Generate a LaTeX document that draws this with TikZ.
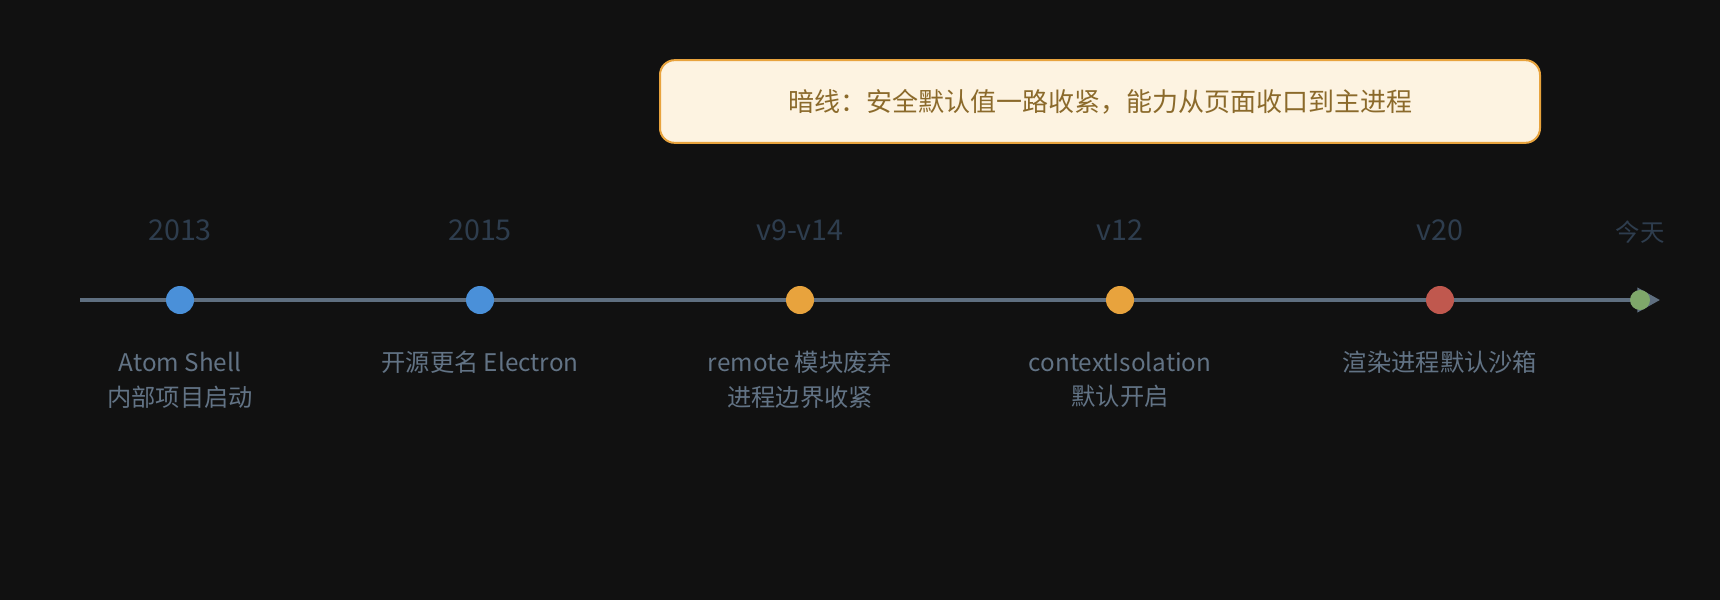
\documentclass[tikz,border=0pt]{standalone}
\usepackage{fontspec}
\setmainfont{Noto Sans CJK SC}
\usetikzlibrary{arrows.meta}
\definecolor{bgc}{HTML}{111111}
\definecolor{axis}{HTML}{5F6F80}
\definecolor{yearc}{HTML}{2E3D4E}
\definecolor{descc}{HTML}{627385}
\definecolor{blu}{HTML}{4A90D9}
\definecolor{org}{HTML}{E8A33D}
\definecolor{rd}{HTML}{C0584E}
\definecolor{grn}{HTML}{7FA86A}
\definecolor{notefill}{HTML}{FDF3E1}
\definecolor{notetext}{HTML}{8B6A2B}
\begin{document}
\begin{tikzpicture}[x=0.75pt,y=-0.75pt,
	dot/.style={circle,inner sep=0pt,minimum size=21pt},
	year/.style={text=yearc,font=\fontsize{21.5}{26}\selectfont},
	desc/.style={text=descc,font=\fontsize{18.2}{26}\selectfont,align=center}]
		\fill[bgc] (0,0) rectangle (1720,600);
		\useasboundingbox (0,0) rectangle (1720,600);
		% \node (note) at (1100,101){...};
		\node (note) at (1100,101.5)[draw=org,line width=1.5pt,fill=notefill,rounded corners=11pt,
			minimum width=660pt,minimum height=62pt,text=notetext,font=\fontsize{19.5}{24}\selectfont]
			{暗线：安全默认值一路收紧，能力从页面收口到主进程};
		\coordinate (s) at (80,300);
		\coordinate (e) at (1660,300);
		\draw[axis,line width=3pt,-{Triangle[length=17pt,width=18pt]}] (s)--(e);
		\node[dot,fill=blu] (13) at (180,300){};
		\node[dot,fill=blu] (15) at (480,300){};
		\node[dot,fill=org] (v9) at (800,300){};
		\node[dot,fill=org] (v12) at (1120,300){};
		\node[dot,fill=rd] (v20) at (1440,300){};
		\node[dot,fill=grn,minimum size=15pt] (now) at (1640,300){};
		\node[year] (y13) at (180,230){2013};
		\node[year] (y15) at (480,230){2015};
		\node[year] (y9) at (800,230){v9-v14};
		\node[year] (y12) at (1120,230){v12};
		\node[year] (y20) at (1440,230){v20};
		\node[year,font=\fontsize{18.3}{22}\selectfont] (ynow) at (1640,232){今天};
		\node[desc] (t13) at (180,380){Atom Shell\\内部项目启动};
		\node[desc] (t15) at (480,362){开源更名 Electron};
		\node[desc] (t9) at (800,380){remote 模块废弃\\进程边界收紧};
		\node[desc] (t12) at (1120,380){contextIsolation\\默认开启};
		\node[desc] (t20) at (1440,362){渲染进程默认沙箱};
		% \draw (now)--(e);
		\end{tikzpicture}
\end{document}
